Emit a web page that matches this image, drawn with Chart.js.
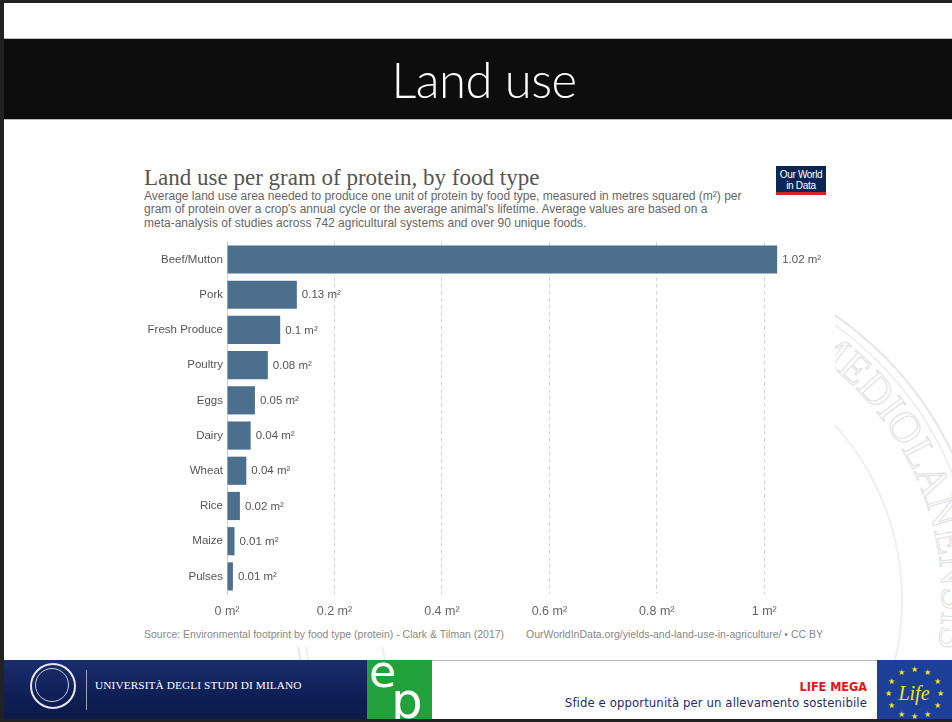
<!DOCTYPE html>
<html>
<head>
<meta charset="utf-8">
<script src="https://cdn.jsdelivr.net/npm/chart.js@4.4.0/dist/chart.umd.min.js"></script>
<style>
  body { margin: 0; background: #fff; }
  #slide { position: relative; width: 952px; height: 722px; overflow: hidden; background: #fff; font-family: "Liberation Sans", Arial, sans-serif; }
  .abs { position: absolute; }
  #frameTop { left: 0; top: 0; width: 952px; height: 3px; background: #222; }
  #frameLeft { left: 0; top: 0; width: 4px; height: 722px; background: #222; z-index: 5; }
  #frameBottom { left: 0; top: 719px; width: 952px; height: 3px; background: #222; z-index: 5; }
  #header { left: 4px; top: 38px; width: 948px; height: 80px; background: #0d0d0d; border-top: 1px solid #bbb; border-bottom: 1px solid #bbb; }
  #header span { position: absolute; left: 0; width: 960px; text-align: center; top: 11px; color: #fff; font-family: Lato, "DejaVu Sans", sans-serif; font-weight: 300; font-size: 49px; letter-spacing: -0.5px; }
  #card { left: 130px; top: 150px; width: 705px; height: 497px; background: #fff; }
  #title { left: 144px; top: 165px; font-family: Georgia, "Liberation Serif", serif; font-size: 23px; color: #555; white-space: nowrap; }
  #subtitle { left: 144px; top: 190px; font-size: 12px; line-height: 13.4px; color: #666; white-space: nowrap; }
  #owid { left: 776px; top: 166px; width: 50px; height: 29px; background: #0b2654; color: #fff; font-size: 10px; line-height: 11px; text-align: center; box-sizing: border-box; padding-top: 3px; border-bottom: 3px solid #ce261e; letter-spacing: -0.3px; }
  #chartBox { left: 130px; top: 231px; width: 700px; height: 395px; }
  #source { left: 144px; top: 628px; font-size: 10.5px; color: #888; white-space: nowrap; }
  #link { right: 129px; top: 628px; font-size: 10.5px; color: #888; white-space: nowrap; }
  #footNavy { left: 4px; top: 660px; width: 363px; height: 60px; background: linear-gradient(180deg, #1a2d6c 0%, #0f1f55 60%, #0c1a48 100%); }
  #seal { left: 30px; top: 663px; width: 42px; height: 42px; border: 2px solid #e4e8f0; border-radius: 50%; }
  #seal2 { left: 35px; top: 668px; width: 32px; height: 32px; border: 1px solid #c9cfdd; border-radius: 50%; }
  #vline { left: 86px; top: 670px; width: 1px; height: 40px; background: #9aa3bd; }
  #uni { left: 95px; top: 679px; color: #fff; font-family: "Liberation Serif", serif; font-size: 11.3px; letter-spacing: 0.1px; white-space: nowrap; }
  #green { left: 367px; top: 660px; width: 65px; height: 60px; background: #22a03c; overflow: hidden; }
  #green .e { position: absolute; left: 2px; top: -14px; color: #fff; font-size: 44px; font-family: "DejaVu Sans", sans-serif; }
  #green .p { position: absolute; left: 24px; top: 12px; color: #fff; font-size: 50px; font-family: "DejaVu Sans", sans-serif; }
  #footLine { left: 432px; top: 660px; width: 445px; height: 1px; background: #b8bccb; }
  #mega { right: 85px; top: 679px; color: #e8101a; font-weight: bold; font-size: 12.5px; font-family: "DejaVu Sans Condensed", "DejaVu Sans", sans-serif; }
  #sfide { right: 85px; top: 695px; color: #1f2d6b; font-size: 13px; letter-spacing: 0.1px; font-family: "DejaVu Sans Condensed", "DejaVu Sans", sans-serif; white-space: nowrap; }
</style>
</head>
<body>
<div id="slide">
  <svg class="abs" style="left:0;top:0" width="952" height="722">
    <defs>
      <path id="ring" d="M 640 600 m -302 0 a 302 302 0 1 1 604 0 a 302 302 0 1 1 -604 0"></path>
    </defs>
    <circle cx="640" cy="600" r="345" fill="none" stroke="#e6e6e6" stroke-width="2"></circle>
    <circle cx="640" cy="600" r="337" fill="none" stroke="#ebebeb" stroke-width="1.5"></circle>
    <circle cx="640" cy="600" r="262" fill="none" stroke="#ececec" stroke-width="1.5"></circle>
    <text font-family="Liberation Serif, serif" font-size="43" fill="none" stroke="#e0e0e0" stroke-width="1">
      <textPath href="#ring" startOffset="34.2%">MEDIOLANENSIS</textPath>
    </text>
  </svg>
  <div class="abs" id="card"></div>
  <div class="abs" id="frameTop"></div>
  <div class="abs" id="frameLeft"></div>
  <div class="abs" id="header"><span>Land use</span></div>

  <div class="abs" id="title">Land use per gram of protein, by food type</div>
  <div class="abs" id="subtitle">Average land use area needed to produce one unit of protein by food type, measured in metres squared (m²) per<br>gram of protein over a crop's annual cycle or the average animal's lifetime. Average values are based on a<br>meta-analysis of studies across 742 agricultural systems and over 90 unique foods.</div>
  <div class="abs" id="owid">Our World<br>in Data</div>
  <div class="abs" id="chartBox"><canvas id="chart"></canvas></div>
  <div class="abs" id="source">Source: Environmental footprint by food type (protein) - Clark &amp; Tilman (2017)</div>
  <div class="abs" id="link">OurWorldInData.org/yields-and-land-use-in-agriculture/ • CC BY</div>

  <div class="abs" id="footNavy"></div>
  <div class="abs" id="seal"></div>
  <div class="abs" id="seal2"></div>
  <div class="abs" id="vline"></div>
  <div class="abs" id="uni">UNIVERSITÀ DEGLI STUDI DI MILANO</div>
  <div class="abs" id="green"><span class="e">e</span><span class="p">p</span></div>
  <div class="abs" id="footLine"></div>
  <div class="abs" id="mega">LIFE MEGA</div>
  <div class="abs" id="sfide">Sfide e opportunità per un allevamento sostenibile</div>
  <svg class="abs" width="75" height="60" style="left:877px;top:660px">
    <rect width="75" height="60" fill="#1c3f97"></rect>
    <g fill="#f5e21a" font-size="8" text-anchor="middle">
      <text x="37" y="12">★</text><text x="50" y="15">★</text><text x="60" y="24">★</text>
      <text x="63" y="36">★</text><text x="60" y="48">★</text><text x="50" y="57">★</text>
      <text x="37" y="59">★</text><text x="24" y="57">★</text><text x="14" y="48">★</text>
      <text x="11" y="36">★</text><text x="14" y="24">★</text><text x="24" y="15">★</text>
    </g>
    <text x="37" y="40" fill="#f5e21a" font-family="Liberation Serif, serif" font-style="italic" font-size="20" text-anchor="middle">Life</text>
  </svg>
  <div class="abs" id="frameBottom"></div>
</div>

<script>
// food types, top to bottom
var foods = ["Beef/Mutton", "Pork", "Fresh Produce", "Poultry", "Eggs", "Dairy", "Wheat", "Rice", "Maize", "Pulses"];
// land use, m² per gram of protein
var landUse = [1.024, 0.13, 0.099, 0.076, 0.052, 0.044, 0.036, 0.024, 0.014, 0.011];
var xTicks = [0, 0.2, 0.4, 0.6, 0.8, 1];

var barLabels = {
    id: 'barLabels',
    afterDatasetsDraw: function(chart) {
        var ctx = chart.ctx;
        var meta = chart.getDatasetMeta(0);
        ctx.save();
        ctx.font = '11.5px "Liberation Sans", Arial, sans-serif';
        ctx.fillStyle = '#555';
        ctx.textBaseline = 'middle';
        meta.data.forEach(function(bar, i) {
            ctx.fillText(Number(landUse[i].toFixed(2)) + ' m²', bar.x + 5, bar.y + 0.5);
        });
        ctx.restore();
    }
};

var chart = new Chart(document.getElementById('chart'), {
    type: 'bar',
    data: {
        labels: foods,
        datasets: [{
            data: landUse,
            backgroundColor: '#4d6f8e',
            categoryPercentage: 1,
            barPercentage: 0.8
        }]
    },
    options: {
        indexAxis: 'y',
        responsive: true,
        maintainAspectRatio: false,
        animation: false,
        layout: { padding: { top: 5, right: 12, left: 0, bottom: 0 } },
        plugins: { legend: { display: false }, tooltip: { enabled: false } },
        scales: {
            x: {
                min: 0,
                max: 1.1,
                afterBuildTicks: function(s) {
                    s.ticks = xTicks.map(function(v) { return { value: v }; });
                },
                afterFit: function(s) { s.height = 32; },
                grid: {
                    drawTicks: false,
                    color: function(c) { return c.tick && c.tick.value === 0 ? 'transparent' : '#d6d6d6'; }
                },
                border: { display: false, dash: [4, 3] },
                ticks: {
                    padding: 10,
                    color: '#666',
                    font: { family: '"Liberation Sans", Arial, sans-serif', size: 12.5 },
                    callback: function(v) { return Number(v.toFixed(1)) + ' m²'; }
                }
            },
            y: {
                afterFit: function(s) { s.width = 97; },
                grid: { display: false, drawTicks: false },
                border: { display: true, color: '#d0d0d0', width: 1 },
                ticks: {
                    padding: 4,
                    color: '#555',
                    font: { family: '"Liberation Sans", Arial, sans-serif', size: 11.5 }
                }
            }
        }
    },
    plugins: [barLabels]
});
</script>
</body>
</html>
